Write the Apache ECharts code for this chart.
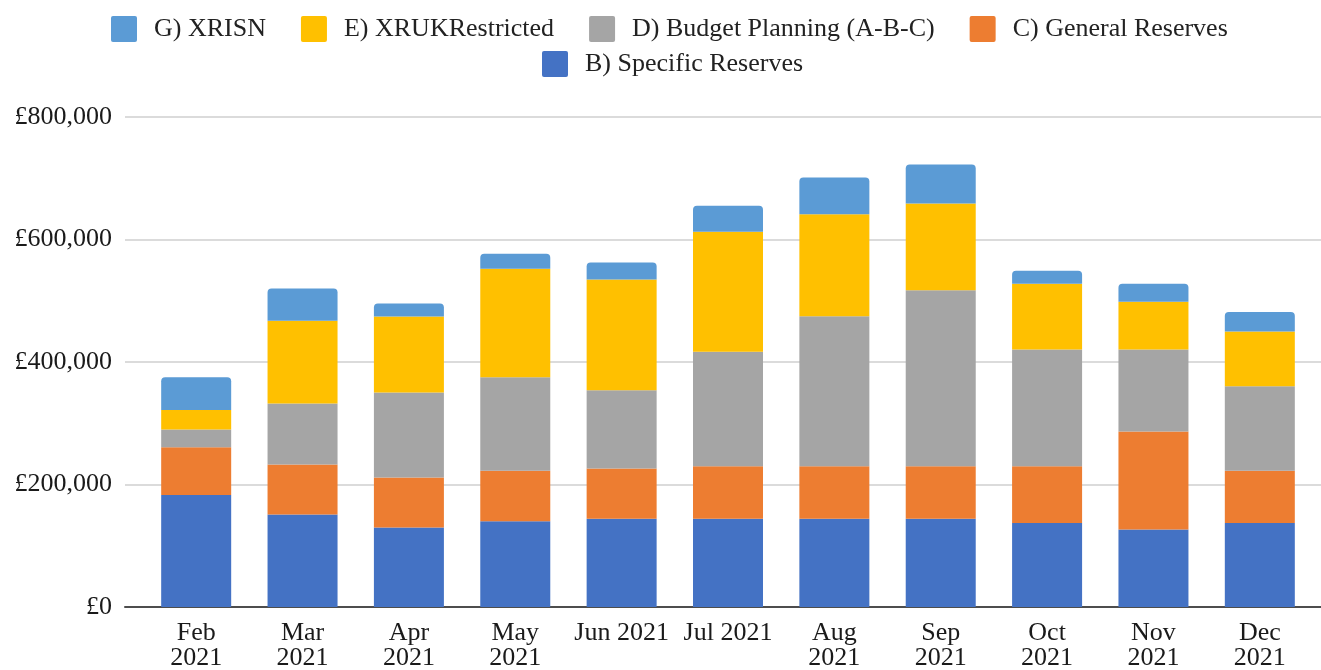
<!DOCTYPE html>
<html>
<head>
<meta charset="utf-8">
<script src="https://cdn.jsdelivr.net/npm/echarts@6/dist/echarts.min.js"></script>
<style>
  html, body { margin: 0; padding: 0; background: #fff; }
  #chart { width: 1321px; height: 670px; }
</style>
</head>
<body>
<div id="chart"></div>
<script>
// months on the x axis (labels as they wrap in the original)
const months = ['Feb\n2021','Mar\n2021','Apr\n2021','May\n2021','Jun 2021','Jul 2021',
  'Aug\n2021','Sep\n2021','Oct\n2021','Nov\n2021','Dec\n2021']
const yTicks = [0, 200000, 400000, 600000, 800000]

// stacked values, bottom to top
const specificReserves = [183000,151000,130000,140000,144000,144000,144000,144000,137000,126500,137000]
const generalReserves  = [78000,81700,81600,82300,82000,85800,85800,85800,92600,160000,85600]
const budgetPlanning   = [29000,99500,138800,152800,127700,187000,245000,287400,191000,134000,138000]
const xrukRestricted   = [31500,135000,124000,177000,181000,195800,166600,141600,107300,78000,89000]
const xrisn            = [53500,52700,21200,24500,27800,42400,60000,63600,21200,29300,32000]

const names = {
  b:'B) Specific Reserves',
  c:'C) General Reserves',
  d:'D) Budget Planning (A-B-C)',
  e:'E) XRUKRestricted',
  g:'G) XRISN'
}

const font = 'Liberation Serif'
const squareIcon = 'path://M2,0H24Q26,0 26,2V24Q26,26 24,26H2Q0,26 0,24V2Q0,0 2,0Z'
const legendBase = {
  orient:'horizontal',
  padding:0,
  itemWidth:26,
  itemHeight:26,
  itemGap:35,
  icon:squareIcon,
  textStyle:{fontFamily:font, fontSize:26, color:'#222', padding:[2,0,0,12]}
}

function bar(name, data, color, top){
  return {
    name:name,
    type:'bar',
    stack:'total',
    xAxisIndex:1,
    yAxisIndex:1,
    barWidth:70,
    data:data,
    itemStyle:{color:color, borderRadius: top ? [4,4,0,0] : 0},
    emphasis:{disabled:true}
  }
}

const options = {
  animation:false,
  legend:[
    {...legendBase, left:111, top:16, data:[names.g, names.e, names.d, names.c]},
    {...legendBase, left:542, top:51, data:[names.b]}
  ],
  grid:[
    {left:125, right:0, top:117, bottom:63, outerBoundsMode:'none'},
    {left:143, right:8, top:117, bottom:63, outerBoundsMode:'none'}
  ],
  xAxis:[
    {
      gridIndex:0, type:'value', min:0, max:1,
      axisLine:{show:true, onZero:false, lineStyle:{color:'#4d4d4d', width:2}},
      axisTick:{show:false}, axisLabel:{show:false}, splitLine:{show:false}
    },
    {
      gridIndex:1, type:'category', data:months,
      axisLine:{show:false}, axisTick:{show:false},
      axisLabel:{fontFamily:font, fontSize:26, color:'#1a1a1a', lineHeight:25, margin:14, interval:0}
    }
  ],
  yAxis:[
    {
      gridIndex:0, type:'value', min:yTicks[0], max:yTicks[yTicks.length-1], interval:yTicks[1]-yTicks[0],
      axisLine:{show:false}, axisTick:{show:false},
      axisLabel:{
        fontFamily:font, fontSize:26, color:'#1a1a1a', margin:13,
        formatter:v => '£' + v.toLocaleString('en-GB')
      },
      splitLine:{lineStyle:{color:'#cfcfcf', width:1.5}}
    },
    {
      gridIndex:1, type:'value', min:yTicks[0], max:yTicks[yTicks.length-1], show:false,
      splitLine:{show:false}
    }
  ],
  series:[
    bar(names.b, specificReserves, '#4472c4'),
    bar(names.c, generalReserves, '#ed7d31'),
    bar(names.d, budgetPlanning, '#a5a5a5'),
    bar(names.e, xrukRestricted, '#ffc000'),
    bar(names.g, xrisn, '#5b9bd5', true)
  ]
}

const chart = echarts.init(document.getElementById('chart'))
chart.setOption(options)
window.addEventListener('resize', () => chart.resize())
</script>
</body>
</html>
